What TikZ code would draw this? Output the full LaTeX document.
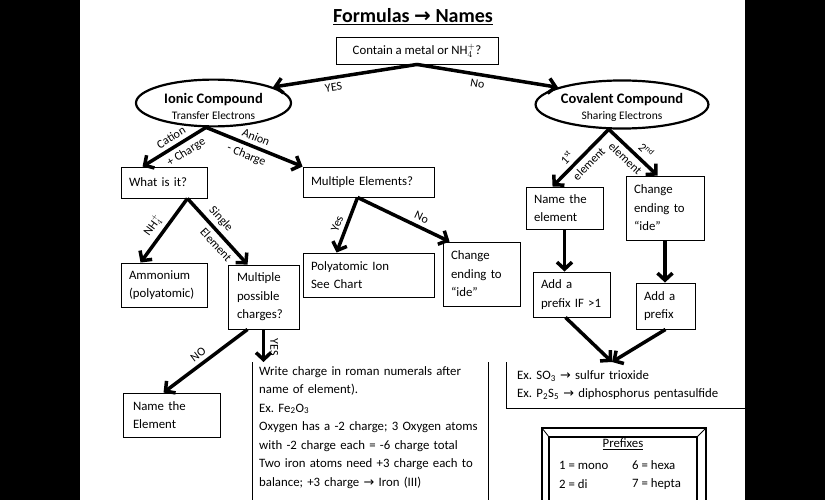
\documentclass[tikz,border=0pt]{standalone}
\usepackage{fontspec}
\setmainfont{Carlito}
\newfontfamily\symfont{DejaVu Sans}
\usetikzlibrary{shapes, arrows.meta}
\frenchspacing

\newcommand{\boxfont}{\fontsize{12.8}{18.5}\selectfont}
\newcommand{\lblfont}{\fontsize{12}{12}\selectfont}
\newcommand{\arrowsym}{{\symfont\char"2192}}

\begin{document}
\begin{tikzpicture}[x=1pt, y=-1pt,
    box/.style={draw, line width=0.9pt, align=left, inner xsep=8pt, font=\boxfont},
    oval/.style={ellipse, draw, line width=2.2pt, align=center, inner sep=0pt},
    arr/.style={line width=3.5pt, -{Straight Barb[length=7pt,width=15pt]}},
    lbl/.style={font=\lblfont, sloped, inner sep=4pt}]
			\useasboundingbox (0,0) rectangle (825,500);
			\clip (0,0) rectangle (825,500);
			\fill[black] (0,0) rectangle (825,500);
			\fill[white] (80,0) rectangle (745,500);
			\coordinate(rightedge) at (745,0);
			\coordinate(bottom) at (0,500);
			
			\node(title) at (413,17) {\fontsize{20}{22}\selectfont\bfseries\underline{Formulas \arrowsym{} Names}};
			\node(q) [box, align=center, minimum width=162pt, minimum height=27pt] at (417,50.5) {Contain a metal or NH$_4^+$?};
			
			\node(ionic) [oval, minimum width=155pt, minimum height=42pt] at (213.5,103) {\rule{0pt}{17pt}{\fontsize{14.5}{16}\selectfont\bfseries Ionic Compound}\\[4pt]{\fontsize{11.5}{12}\selectfont Transfer Electrons}};
			\node(cov) [oval, minimum width=162pt, minimum height=45pt] at (622,104.5) {\rule{0pt}{16pt}{\fontsize{14.5}{16}\selectfont\bfseries Covalent Compound}\\[4pt]{\fontsize{11.5}{12}\selectfont Sharing Electrons}};
			
			\node(what) [box, text width=70pt, minimum height=31pt] at (164,182.5) {What is it?};
			\node(multel) [box, text width=115pt, minimum height=30pt] at (368.5,182) {Multiple Elements?};
			\node(ammon) [box, text width=70pt, minimum height=44pt] at (164,285) {Ammonium\\(polyatomic)};
			\node(mpc) [box, inner xsep=9pt, text width=53pt, minimum height=64pt] at (263.5,297) {Multiple\\possible\\charges?};
			\node(poly) [box, text width=115pt, minimum height=44pt] at (368.5,275) {Polyatomic Ion\\See Chart};
			\node(chide1) [box, text width=61pt, minimum height=64pt] at (481.5,274) {Change\\ending to\\“ide”};
			\node(namel) [box, text width=61pt, minimum height=42pt] at (564.5,208) {Name the\\element};
			\node(chide2) [box, text width=62pt, minimum height=64pt] at (665,208) {Change\\ending to\\“ide”};
			\node(pref1) [box, text width=61pt, minimum height=45pt] at (571.5,294.5) {Add a\\prefix IF >1};
			\node(pref2) [box, text width=43pt, minimum height=46pt] at (665.5,306) {Add a\\prefix};
			\node(nameEl) [box, inner xsep=10pt, text width=77pt, minimum height=44pt] at (171.5,415) {Name the\\Element};
			
			% open boxes
			\node(ex) [anchor=north west, align=left, font=\boxfont, inner xsep=11pt, text width=215pt, minimum height=46pt] at (506,362) {Ex. SO\textsubscript{3} \arrowsym{} sulfur trioxide\\Ex. P\textsubscript{2}S\textsubscript{5} \arrowsym{} diphosphorus pentasulfide};
			\draw[line width=0.9pt] (ex.north west) -- (ex.south west) -- (ex.south west -| rightedge);
			\node(wc) [anchor=north west, align=left, font=\boxfont, inner xsep=7pt, inner ysep=4pt, text width=222pt] at (252,362) {Write charge in roman numerals after\\name of element).\\Ex. Fe\textsubscript{2}O\textsubscript{3}\\Oxygen has a -2 charge; 3 Oxygen atoms\\with -2 charge each = -6 charge total\\Two iron atoms need +3 charge each to\\balance; +3 charge \arrowsym{} Iron (III)};
			\draw[line width=0.9pt] (wc.north west) -- (wc.north west |- bottom);
			\draw[line width=0.9pt] (wc.north east) -- (wc.north east |- bottom);
			\coordinate(meet) at ([xshift=106pt]ex.north west);
			
			% prefixes frame
			\draw[line width=2.4pt] (542,428) rectangle (706,520);
			\draw[line width=1.6pt] (549,437) rectangle (697,520);
			\draw[line width=0.8pt] (542,428) -- (549,437) (706,428) -- (697,437);
			\node(pfx) at (623,444) {\boxfont\underline{Prefixes}};
			\node(p1) [anchor=west, font=\boxfont, inner sep=0pt] at (559,465) {1 = mono};
			\node(p6) [anchor=west, font=\boxfont, inner sep=0pt] at (632,465) {6 = hexa};
			\node(p2) [anchor=west, font=\boxfont, inner sep=0pt] at (559,484) {2 = di};
			\node(p7) [anchor=west, font=\boxfont, inner sep=0pt] at (632,484) {7 = hepta};
			
			% arrows
			\draw[arr] (q.south) -- node[lbl, below, pos=.59] {YES} (ionic.15);
			\draw[arr] (q.south) -- node[lbl, below, pos=.44] {No} (cov.165);
			\draw[arr] (ionic.253) -- node[lbl, above, pos=.47] {Cation} node[lbl, below, pos=.4] {+ Charge} ([xshift=22pt]what.north west);
			\draw[arr] (ionic.253) -- node[lbl, above, pos=.48] {Anion} node[lbl, below, pos=.46] {- Charge} (multel.north west);
			\draw[arr] ([xshift=-20pt]what.south east) -- node[lbl, above, pos=.53] {NH$_4^+$} ([xshift=20pt]ammon.north west);
			\draw[arr] ([xshift=-20pt]what.south east) -- node[lbl, above, pos=.42] {Single} node[lbl, below, pos=.6] {Element} ([xshift=20pt]mpc.north west);
			\draw[arr] ([xshift=55pt]multel.south west) -- node[lbl, above, pos=.54] {Yes} ([xshift=34pt]poly.north west);
			\draw[arr] ([xshift=55pt]multel.south west) -- node[lbl, above, pos=.65] {No} ([xshift=7pt]chide1.north west);
			\draw[arr] (cov.242) -- node[lbl, above, pos=.62] {1\textsuperscript{st}} node[lbl, below, pos=.48] {element} ([xshift=27pt]namel.north west);
			\draw[arr] (cov.242) -- node[lbl, above, pos=.62] {2\textsuperscript{nd}} node[lbl, below, pos=.48] {element} ([xshift=32pt]chide2.north west);
			\draw[arr] (namel.south) -- (namel.south |- pref1.north);
			\draw[arr] (chide2.south) -- (chide2.south |- pref2.north);
			\draw[arr] ([xshift=-6pt]pref1.south) -- (meet);
			\draw[arr] (pref2.south) -- (meet);
			\draw[arr] ([xshift=-16pt]mpc.south) -- node[lbl, above, pos=.52] {NO} ([xshift=41pt]nameEl.north west);
			\draw[arr] (mpc.south) -- node[font=\lblfont, rotate=-90, anchor=south, inner sep=5pt, pos=.55] {YES} (mpc.south |- wc.north);
			
		\end{tikzpicture}
\end{document}
